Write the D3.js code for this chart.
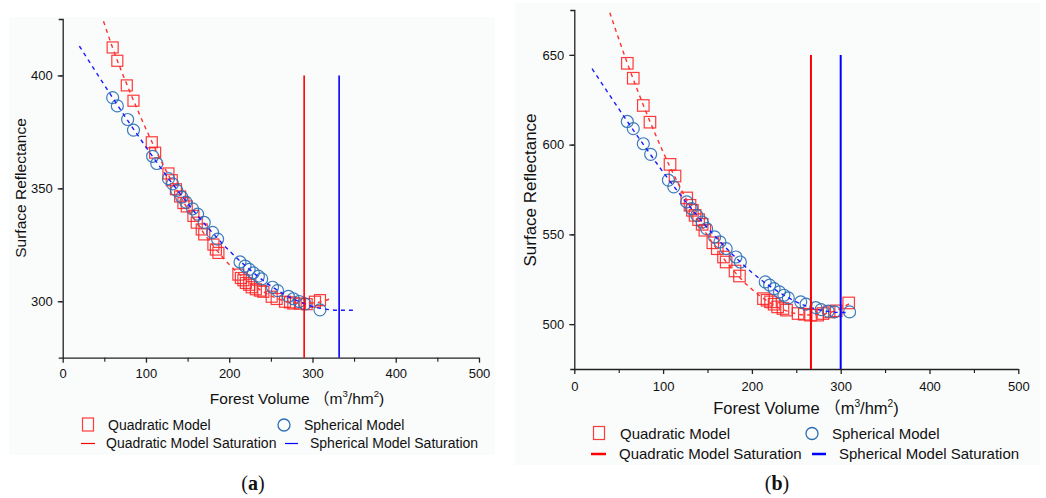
<!DOCTYPE html>
<html>
<head>
<meta charset="utf-8">
<script src="https://cdn.jsdelivr.net/npm/d3@7"></script>
<style>
  body { margin: 0; background: #fff; }
  svg { display: block; font-family: "Liberation Sans", Arial, sans-serif; }
</style>
</head>
<body>
<svg class="chart"></svg>
<script>
// panel (a) observations: [forest volume, surface reflectance]
const quadPointsA = [
  [60, 412.4], [65.6, 406.5], [77, 395.6], [85, 388.8], [107, 370.4], [111, 365.8],
  [127, 356.6], [131, 353.6], [136, 349.6], [141, 346.4], [145, 343.5], [149, 342],
  [157, 337.8], [161, 334.8], [167, 331.8], [170, 329.6], [181, 325.1], [184, 322.9],
  [187, 321.4], [211, 311.8], [214, 310.3], [217, 309.3], [220, 308.1], [224, 307.3],
  [227, 306.2], [232, 305.3], [237, 304.7], [241, 304.2], [251, 302], [257, 301],
  [267, 299.8], [273, 299.5], [277, 299], [285, 299], [293, 298.7], [303, 299.8], [309, 300.5]
];
const sphPointsA = [
  [60, 390.2], [65.6, 386.5], [78, 380.5], [85, 375.8], [108, 364.2], [113, 361],
  [127, 354.3], [132, 352], [137, 349.1], [143, 346.1], [148, 343.9], [156, 340.9],
  [162, 338.6], [170, 334.9], [180, 330.5], [186, 327.5], [213, 317.4], [219, 315.6],
  [224, 314.1], [229, 312.6], [235, 311.1], [239, 309.9], [252, 306.2], [258, 304.7],
  [271, 302.2], [277, 301.1], [284, 299.9], [291, 298.8], [309, 296.2]
];
// fitted curves
const quadFitA = [
  [49, 424], [60, 412.2], [80, 393.4], [100, 376.3], [120, 360.8], [140, 347.2],
  [160, 335.2], [180, 324.9], [200, 316.3], [220, 309.5], [240, 304.4], [260, 300.9],
  [280, 299.2], [300, 299.2], [320, 300.9]
];
const sphFitA = [
  [20, 413], [40, 401.5], [60, 390.1], [80, 379], [100, 368.3], [120, 357.9],
  [140, 348.1], [160, 338.8], [180, 330.3], [200, 322.4], [220, 315.5], [240, 309.4],
  [260, 304.4], [280, 300.5], [300, 297.7], [320, 296.3], [332, 296], [352, 296]
];
const saturationA = [290, 332];

// panel (b)
const quadPointsB = [
  [59.7, 645.3], [66.4, 637], [77.7, 621.8], [85.2, 612.5], [107.8, 589], [113.4, 582.5],
  [126.6, 570.3], [130.3, 566.2], [133, 563.4], [136, 560.6], [140, 558.2], [144, 555.6],
  [147, 552.3], [156, 545.3], [161, 542], [168, 537.4], [171, 534.6], [181, 529.6],
  [186, 526.8], [213, 514.2], [217, 513.3], [221, 512.4], [225, 511.1], [229, 509.6],
  [235, 508.7], [239, 507.8], [252, 505.9], [259, 505.5], [266, 505], [274, 505],
  [280, 505.9], [287, 506.8], [295, 507.4], [309, 511.8]
];
const sphPointsB = [
  [59.7, 612.9], [66.4, 608.9], [77.7, 600.5], [86, 594.6], [106, 580.2], [112, 576.5],
  [126.6, 568.1], [132, 564.4], [138, 560.6], [144, 556.9], [149, 553.2], [158, 548.6],
  [164, 545.8], [171, 542.1], [182, 537.4], [187, 534.6], [215, 523.5], [220, 521.7],
  [225, 519.8], [231, 518], [236, 516.1], [241, 514.6], [255, 512.4], [261, 511.1],
  [272, 509.2], [278, 508.1], [286, 507.2], [293, 506.8], [310, 506.8]
];
const quadFitB = [
  [40, 673.5], [60, 645], [80, 619.2], [100, 595.9], [120, 575.3], [140, 557.4],
  [160, 542.1], [180, 529.4], [200, 519.4], [220, 512], [240, 507.2], [260, 505.1],
  [280, 505.6], [300, 508.8], [310, 511.4]
];
const sphFitB = [
  [20, 642.3], [40, 627.4], [60, 612.7], [80, 598.5], [100, 584.7], [120, 571.7],
  [140, 559.4], [160, 548.1], [180, 537.9], [200, 528.8], [220, 521.2], [240, 515],
  [260, 510.3], [280, 507.5], [300, 506.5], [310, 506.5]
];
const saturationB = [266.5, 300];

const xDomain = [0, 500];
const xTicks = [0, 100, 200, 300, 400, 500];
const yDomainA = [275, 425];
const yTicksA = [300, 350, 400];
const yDomainB = [475, 675];
const yTicksB = [500, 550, 600, 650];

const legendLabels = ["Quadratic Model", "Spherical Model", "Quadratic Model Saturation", "Spherical Model Saturation"];
const captions = ["(a)", "(b)"];

document.addEventListener('DOMContentLoaded', function() {
    const width = 1046;
    const height = 498;
    const red = "#ff1a1a";
    const blue = "#1a1aff";
    const circleBlue = "#2a6fb5";

    const svg = d3.select('.chart')
        .attr('width', width)
        .attr('height', height);

    // faint panel backgrounds
    svg.append("rect").attr("x", 9).attr("y", 17).attr("width", 486).attr("height", 438).attr("fill", "#fafbfb");
    svg.append("rect").attr("x", 515).attr("y", 3).attr("width", 525).attr("height", 462).attr("fill", "#fafbfb");

    function drawPanel(p) {
        const x = d3.scaleLinear().domain(xDomain).range([p.left, p.right]);
        const y = d3.scaleLinear().domain(p.yDomain).range([p.bottom, p.top]);
        const g = svg.append("g");

        // minor ticks
        g.append("g")
            .attr("transform", `translate(0,${p.bottom})`)
            .call(d3.axisBottom(x).tickValues(d3.range(50, 500, 100)).tickSize(4).tickFormat("").tickSizeOuter(0))
            .call(a => a.select(".domain").remove());
        g.append("g")
            .attr("transform", `translate(${p.left},0)`)
            .call(d3.axisLeft(y).tickValues(d3.range(p.yDomain[0] + 25, p.yDomain[1], 50)).tickSize(3).tickFormat("").tickSizeOuter(0))
            .call(a => a.select(".domain").remove());

        const xAxis = g.append("g")
            .attr("transform", `translate(0,${p.bottom})`)
            .call(d3.axisBottom(x).tickValues(xTicks).tickSize(5).tickPadding(p.xPad).tickSizeOuter(0));
        const yAxis = g.append("g")
            .attr("transform", `translate(${p.left},0)`)
            .call(d3.axisLeft(y).tickValues(p.yTicks).tickSize(5).tickPadding(5).tickSizeOuter(4));
        [xAxis, yAxis].forEach(a => {
            a.selectAll("text").attr("font-size", 13).attr("fill", "#111").style("font-family", "Liberation Sans, Arial, sans-serif");
            a.selectAll("line, path").attr("stroke", "#222").attr("stroke-width", 1.3);
        });

        // markers
        const sq = p.square;
        g.append("g").selectAll("rect")
            .data(p.quadPoints)
            .enter().append("rect")
            .attr("x", d => x(d[0]) - sq / 2)
            .attr("y", d => y(d[1]) - sq / 2)
            .attr("width", sq)
            .attr("height", sq)
            .attr("fill", "none")
            .attr("stroke", red)
            .attr("stroke-opacity", 0.85)
            .attr("stroke-width", 1.2);

        g.append("g").selectAll("circle")
            .data(p.sphPoints)
            .enter().append("circle")
            .attr("cx", d => x(d[0]))
            .attr("cy", d => y(d[1]))
            .attr("r", p.radius)
            .attr("fill", "none")
            .attr("stroke", circleBlue)
            .attr("stroke-opacity", 0.9)
            .attr("stroke-width", 1.2);

        // fitted curves
        const line = d3.line().x(d => x(d[0])).y(d => y(d[1])).curve(d3.curveMonotoneX);
        g.append("path").datum(p.quadFit)
            .attr("d", line).attr("fill", "none")
            .attr("stroke", "#ff3030").attr("stroke-width", 1.4).attr("stroke-dasharray", "4,4");
        g.append("path").datum(p.sphFit)
            .attr("d", line).attr("fill", "none")
            .attr("stroke", blue).attr("stroke-width", 1.4).attr("stroke-dasharray", "4,4");

        // saturation lines
        g.selectAll(".sat")
            .data(p.saturation)
            .enter().append("line")
            .attr("x1", d => x(d)).attr("x2", d => x(d))
            .attr("y1", y(p.satTop)).attr("y2", p.bottom)
            .attr("stroke", (d, i) => i === 0 ? "#ff0000" : "#0000ff")
            .attr("stroke-width", p.satWidth);

        // axis titles
        const xt = g.append("text")
            .attr("x", p.xTitle[0]).attr("y", p.xTitle[1])
            .attr("text-anchor", "middle")
            .attr("font-size", p.titleSize).attr("fill", "#111");
        xt.append("tspan").text("Forest Volume ");
        xt.append("tspan").text("（").style("font-family", "Noto Sans CJK SC");
        xt.append("tspan").text("m");
        xt.append("tspan").text("3").attr("font-size", p.titleSize * 0.62).attr("dy", -7);
        xt.append("tspan").text("/hm").attr("dy", 7);
        xt.append("tspan").text("2").attr("font-size", p.titleSize * 0.62).attr("dy", -7);
        xt.append("tspan").text(")").attr("dy", 7);

        g.append("text")
            .attr("transform", `translate(${p.yTitle[0]},${p.yTitle[1]}) rotate(-90)`)
            .attr("text-anchor", "middle")
            .attr("dy", "0.35em")
            .attr("font-size", p.yTitleSize).attr("fill", "#111")
            .text("Surface Reflectance");

        // legend
        const L = p.legend;
        const lg = g.append("g").attr("font-size", L.size).attr("fill", "#111");
        lg.append("rect")
            .attr("x", L.col1 - 5.5).attr("y", L.row1 - 7).attr("width", 11).attr("height", 13)
            .attr("fill", "none").attr("stroke", red).attr("stroke-opacity", 0.85).attr("stroke-width", 1.2);
        lg.append("circle")
            .attr("cx", L.col2).attr("cy", L.row1).attr("r", 6)
            .attr("fill", "none").attr("stroke", circleBlue).attr("stroke-width", 1.3);
        lg.append("line")
            .attr("x1", L.line1[0]).attr("x2", L.line1[1]).attr("y1", L.row2).attr("y2", L.row2)
            .attr("stroke", "#ff0000").attr("stroke-width", L.lineWidth);
        lg.append("line")
            .attr("x1", L.line2[0]).attr("x2", L.line2[1]).attr("y1", L.row2).attr("y2", L.row2)
            .attr("stroke", "#0000ff").attr("stroke-width", L.lineWidth);

        const textPos = [[L.text[0], L.row1], [L.text[1], L.row1], [L.text[2], L.row2], [L.text[3], L.row2]];
        lg.selectAll("text")
            .data(legendLabels)
            .enter().append("text")
            .attr("x", (d, i) => textPos[i][0])
            .attr("y", (d, i) => textPos[i][1])
            .attr("dy", "0.35em")
            .text(d => d);

        svg.append("text")
            .attr("x", p.caption[0]).attr("y", p.caption[1])
            .attr("text-anchor", "middle")
            .attr("font-family", "Liberation Serif, Times New Roman, serif")
            .attr("font-size", 20).attr("fill", "#111")
            .html(p.label.replace(/([ab])/, '<tspan font-weight="bold">$1</tspan>'));
    }

    drawPanel({
        left: 62.7, right: 479, top: 19, bottom: 357.7,
        yDomain: yDomainA, yTicks: yTicksA, xPad: 6,
        quadPoints: quadPointsA, sphPoints: sphPointsA,
        quadFit: quadFitA, sphFit: sphFitA,
        saturation: saturationA, satTop: 400, satWidth: 1.6,
        square: 11, radius: 6,
        titleSize: 15.5, yTitleSize: 15.5,
        xTitle: [297, 404], yTitle: [21, 188],
        legend: {
            size: 14, row1: 425, row2: 443.5, col1: 88, col2: 284,
            line1: [81, 95], line2: [285, 298], lineWidth: 1.2,
            text: [108, 304, 106, 310]
        },
        caption: [253, 490], label: captions[0]
    });

    drawPanel({
        left: 574.3, right: 1018.3, top: 10, bottom: 369,
        yDomain: yDomainB, yTicks: yTicksB, xPad: 8,
        quadPoints: quadPointsB, sphPoints: sphPointsB,
        quadFit: quadFitB, sphFit: sphFitB,
        saturation: saturationB, satTop: 650, satWidth: 2,
        square: 11.5, radius: 6,
        titleSize: 16.5, yTitleSize: 17,
        xTitle: [806, 414], yTitle: [530, 190],
        legend: {
            size: 15, row1: 433.5, row2: 454, col1: 599, col2: 812,
            line1: [591, 606], line2: [812, 826], lineWidth: 2.5,
            text: [620, 832, 619, 839]
        },
        caption: [777, 490], label: captions[1]
    });
});
</script>
</body>
</html>
